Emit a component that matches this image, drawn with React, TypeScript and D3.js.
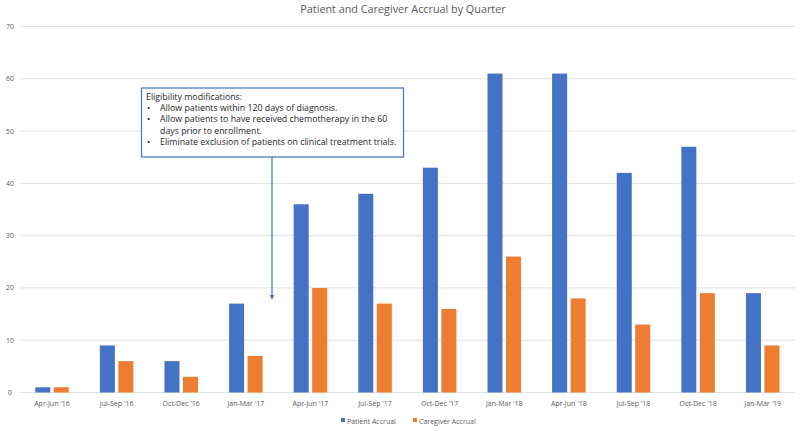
import React from "react";
import * as d3 from "d3";

const categories = ["Apr-Jun '16", "Jul-Sep '16", "Oct-Dec '16", "Jan-Mar '17", "Apr-Jun '17", "Jul-Sep '17", "Oct-Dec '17", "Jan-Mar '18", "Apr-Jun '18", "Jul-Sep '18", "Oct-Dec '18", "Jan-Mar '19"];
const patientAccrual = [1, 9, 6, 17, 36, 38, 43, 61, 61, 42, 47, 19];
const caregiverAccrual = [1, 6, 3, 7, 20, 17, 16, 26, 18, 13, 19, 9];
const yTicks = [0, 10, 20, 30, 40, 50, 60, 70];
const seriesNames = ["Patient Accrual", "Caregiver Accrual"];
const seriesColors = ["#4472C4", "#ED7D31"];
const noteTitle = "Eligibility modifications:";
const noteLines = [
  { bullet: true, text: "Allow patients within 120 days of diagnosis." },
  { bullet: true, text: "Allow patients to have received chemotherapy in the 60" },
  { bullet: false, text: "days prior to enrollment." },
  { bullet: true, text: "Eliminate exclusion of patients on clinical treatment trials." },
];

const W = 800, H = 431;
const FONT = "'Open Sans', 'Liberation Sans', sans-serif";

export default function App() {
  const x = d3.scaleBand<string>().domain(categories).range([19.7, 795]).paddingInner(0).paddingOuter(0);
  const y = d3.scaleLinear().domain([0, 70]).range([392.5, 26.5]);
  const bw = 15;
  const gap = 3.5;
  const series = [patientAccrual, caregiverAccrual];

  const arrowX = 272;
  return (
    <svg width={W} height={H} style={{ position: "absolute", left: 0, top: 0, background: "#fff" }} fontFamily={FONT}>
      <defs>
        <marker id="ah" viewBox="0 0 10 10" refX="9" refY="5" markerWidth="4" markerHeight="5" orient="auto">
          <path d="M0,0 L10,5 L0,10 z" fill="#4472C4" />
        </marker>
      </defs>
      <text x={403} y={13} textAnchor="middle" fontSize={10.8} fill="#595959">Patient and Caregiver Accrual by Quarter</text>
      {yTicks.map((t) => (
        <g key={t}>
          <line x1={19.7} x2={795} y1={y(t)} y2={y(t)} stroke="#D9D9D9" strokeWidth={0.8} />
          <text x={10} y={y(t) + 2.5} textAnchor="middle" fontSize={6.8} fill="#595959">{t}</text>
        </g>
      ))}
      {categories.map((c, i) => {
        const cx = (x(c) as number) + x.bandwidth() / 2;
        return (
          <g key={c}>
            {series.map((s, k) => {
              const x0 = k === 0 ? cx - gap / 2 - bw : cx + gap / 2;
              return <rect key={k} x={x0} y={y(s[i])} width={bw} height={y(0) - y(s[i])} fill={seriesColors[k]} />;
            })}
            <text x={cx} y={406} textAnchor="middle" fontSize={7} fill="#595959">{c}</text>
          </g>
        );
      })}
      {seriesNames.map((n, k) => {
        const lx = k === 0 ? 341 : 413;
        return (
          <g key={n}>
            <rect x={lx} y={418} width={4} height={4} fill={seriesColors[k]} />
            <text x={lx + 6} y={423.5} fontSize={7} fill="#595959">{n}</text>
          </g>
        );
      })}
      <rect x={141.5} y={88} width={262} height={69} fill="#fff" stroke="#4472C4" strokeWidth={1.2} />
      <line x1={arrowX} x2={arrowX} y1={157} y2={299} stroke="#4472C4" strokeWidth={1.2} markerEnd="url(#ah)" />
      <text x={146} y={100} fontSize={8.8} fill="#262626">{noteTitle}</text>
      {noteLines.map((l, i) => {
        const yy = 111 + i * 11.3;
        return (
          <g key={i}>
            {l.bullet && <text x={147} y={yy} fontSize={8.8} fill="#262626">•</text>}
            <text x={160} y={yy} fontSize={8.8} fill="#262626">{l.text}</text>
          </g>
        );
      })}
    </svg>
  );
}
